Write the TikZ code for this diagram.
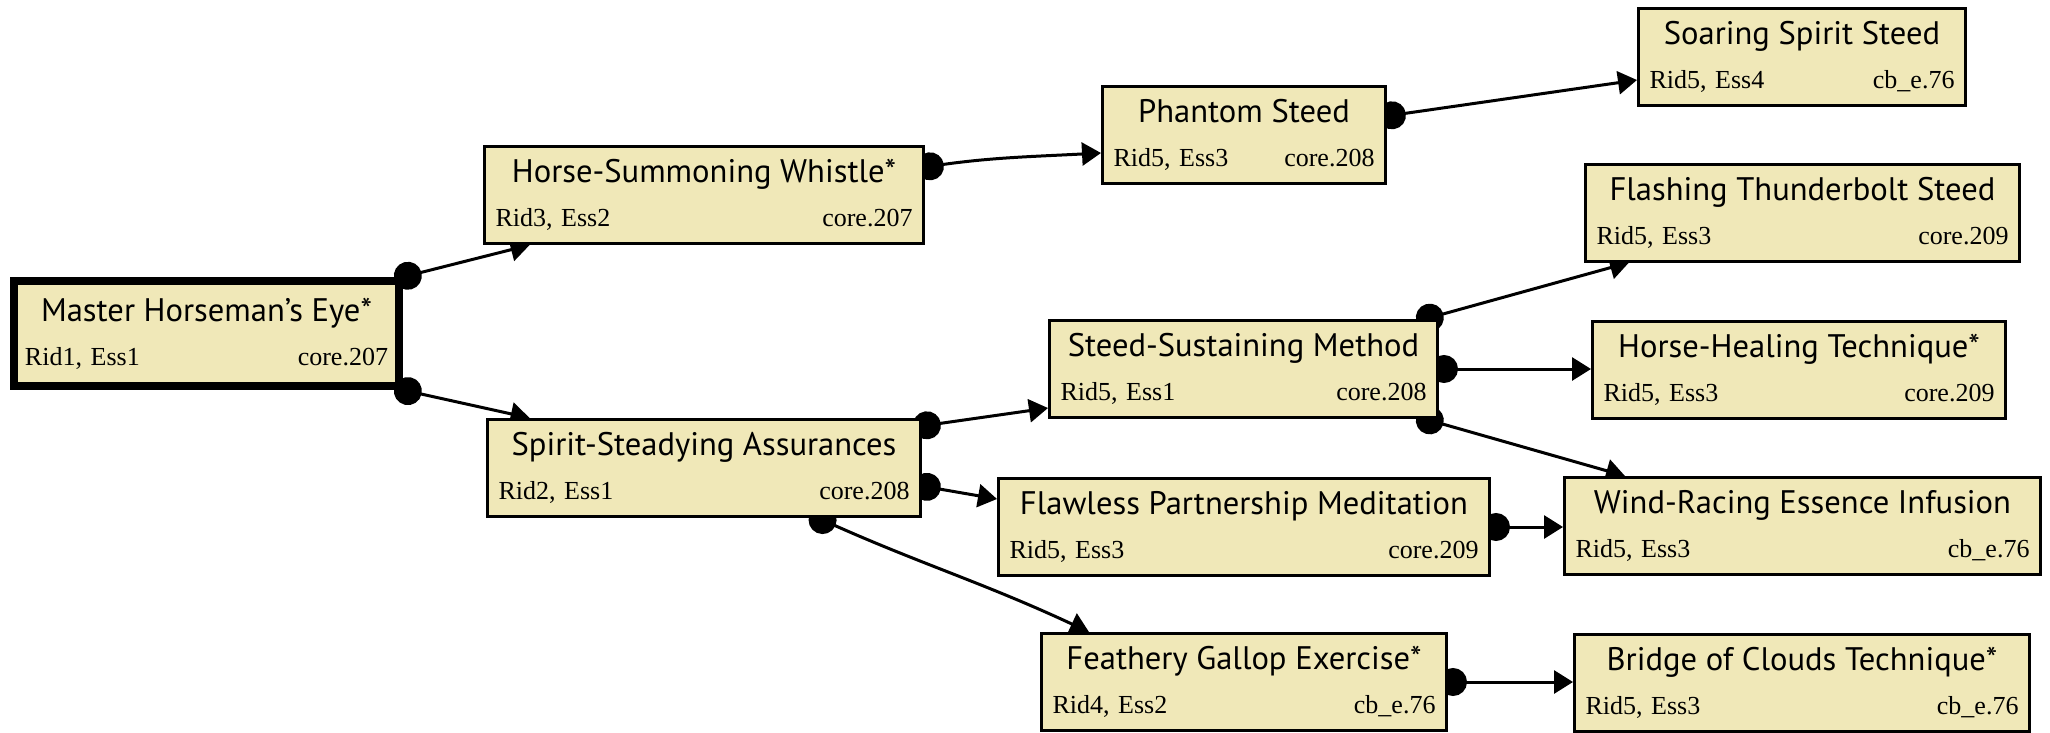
\documentclass[tikz,border=0pt]{standalone}
\usepackage{fontspec}
\setmainfont{Liberation Serif}
\newfontfamily\titlefont{PT Sans}
\usetikzlibrary{arrows.meta, backgrounds}
\definecolor{hsfill}{HTML}{F0E8B8}
% titolo centrato sopra, riga con rango a sinistra e fonte a destra
\newcommand{\tech}[3]{{\titlefont\fontsize{16.3pt}{18pt}\selectfont #1}\\[6.4pt]\hbox to\hsize{#2\hfil #3}}

\begin{document}
\begin{tikzpicture}[x=0.5pt, y=-0.5pt,
    tech/.style={draw, line width=1.5pt, fill=hsfill, align=center, inner xsep=5.5pt, inner ysep=0pt, minimum height=48.5pt, font=\fontsize{13pt}{15.6pt}\selectfont},
    link/.style={line width=1.5pt, {Circle[length=14pt]}-{Triangle[length=9.5pt, width=11.5pt]}, shorten <=-4.5pt}]
  \useasboundingbox (0,0) rectangle (2050,733);
  % radice
  \node[tech, line width=4pt, minimum height=52.5pt, text width=181.5pt] (eye) at (206.5,333.5) {\tech{Master Horseman’s Eye*}{Rid1, Ess1}{core.207}};
  % primo livello
  \node[tech, text width=208.5pt] (whistle) at (704,195) {\tech{Horse-Summoning Whistle*}{Rid3, Ess2}{core.207}};
  \node[tech, text width=205.5pt] (assur) at (704,468) {\tech{Spirit-Steadying Assurances}{Rid2, Ess1}{core.208}};
  % secondo livello
  \node[tech, text width=130.5pt] (phantom) at (1244,135) {\tech{Phantom Steed}{Rid5, Ess3}{core.208}};
  \node[tech, text width=183pt] (sustain) at (1243.5,369) {\tech{Steed-Sustaining Method}{Rid5, Ess1}{core.208}};
  \node[tech, text width=234.5pt] (flawless) at (1244,527) {\tech{Flawless Partnership Meditation}{Rid5, Ess3}{core.209}};
  \node[tech, text width=191.5pt] (gallop) at (1244,682) {\tech{Feathery Gallop Exercise*}{Rid4, Ess2}{cb\_e.76}};
  % terzo livello
  \node[tech, text width=152.5pt] (soaring) at (1802,57) {\tech{Soaring Spirit Steed}{Rid5, Ess4}{cb\_e.76}};
  \node[tech, text width=206pt] (thunder) at (1802.5,212.5) {\tech{Flashing Thunderbolt Steed}{Rid5, Ess3}{core.209}};
  \node[tech, text width=195.5pt] (healing) at (1799,369.5) {\tech{Horse-Healing Technique*}{Rid5, Ess3}{core.209}};
  \node[tech, text width=227pt] (infusion) at (1802.5,526) {\tech{Wind-Racing Essence Infusion}{Rid5, Ess3}{cb\_e.76}};
  \node[tech, text width=216.5pt] (clouds) at (1802,683) {\tech{Bridge of Clouds Technique*}{Rid5, Ess3}{cb\_e.76}};
  % collegamenti sotto i riquadri
  \begin{scope}[on background layer]
    \draw[link] (eye.north east) -- (whistle.196);
    \draw[link] (eye.south east) -- (assur.164);
    \draw[link] ([yshift=14pt]whistle.east) to[out=8, in=183] ([yshift=-9pt]phantom.west);
    \draw[link] ([yshift=9.5pt]phantom.east) -- ([yshift=-11.5pt]soaring.west);
    \draw[link] ([yshift=21pt]assur.east) -- ([yshift=-19.5pt]sustain.west);
    \draw[link] ([yshift=-9pt]assur.east) -- ([yshift=14pt]flawless.west);
    \draw[link] ([xshift=57pt]assur.south) to[out=-24, in=155] ([xshift=-77.5pt]gallop.north);
    \draw[link] ([xshift=90.75pt]sustain.north) -- ([xshift=-86.75pt]thunder.south);
    \draw[link] (sustain.east) -- (sustain.east -| healing.west);
    \draw[link] ([xshift=90.75pt]sustain.south) -- ([xshift=-88.75pt]infusion.north);
    \draw[link] (flawless.east) -- (flawless.east -| infusion.west);
    \draw[link] (gallop.east) -- (gallop.east -| clouds.west);
  \end{scope}
\end{tikzpicture}
\end{document}
